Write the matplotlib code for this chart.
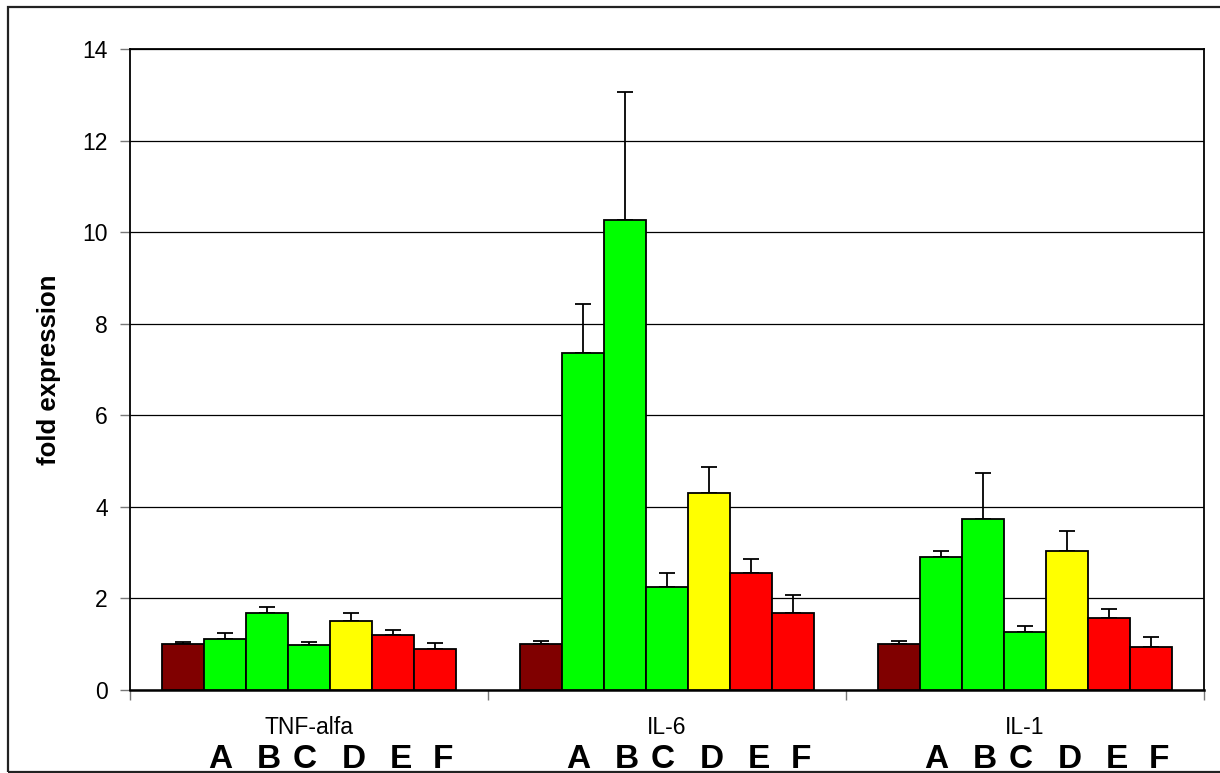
# fold expression of cytokines, bars with upper error bars

import matplotlib.pyplot as plt
import numpy as np
from matplotlib.patches import Rectangle
from matplotlib.transforms import blended_transform_factory, offset_copy

plt.rcParams['font.family'] = ['Liberation Sans', 'DejaVu Sans']

genes = ['TNF-alfa', 'IL-6', 'IL-1']
letters = ['A', 'B', 'C', 'D', 'E', 'F']
bar_colors = ['#800000', '#00FF00', '#00FF00', '#00FF00', '#FFFF00', '#FF0000', '#FF0000']

tnf = [1.0, 1.11, 1.68, 0.99, 1.51, 1.21, 0.90]
tnf_err = [0.05, 0.14, 0.14, 0.05, 0.17, 0.09, 0.13]
il6 = [1.0, 7.35, 10.27, 2.24, 4.30, 2.55, 1.69]
il6_err = [0.08, 1.09, 2.80, 0.31, 0.57, 0.31, 0.38]
il1 = [1.0, 2.90, 3.73, 1.26, 3.04, 1.57, 0.95]
il1_err = [0.08, 0.14, 1.02, 0.13, 0.43, 0.20, 0.21]

values = np.array([tnf, il6, il1])
errors = np.array([tnf_err, il6_err, il1_err])

# small horizontal nudges (pixels) for the letter row
letter_dx = [-5, 2, -4, 3, 8, 8]

W, H = 1220, 773
fig = plt.figure(figsize=(W / 100, H / 100), dpi=100)
ax = fig.add_axes([130 / W, (H - 690) / H, (1204 - 130) / W, (690 - 49) / H])

# outer frame around the whole chart
fig.patches.append(Rectangle((8 / W, 1 - 772 / H), 1.2, (772 - 7) / H,
                             transform=fig.transFigure, fill=False,
                             edgecolor='#222222', lw=1.6, clip_on=False))

nbars = values.shape[1]
w = 1 / 8.5
x = np.arange(len(genes))
tr = blended_transform_factory(ax.transData, ax.transAxes)
for i in range(nbars):
    pos = x + (i - (nbars - 1) / 2) * w
    ax.bar(pos, values[:, i], width=w, color=bar_colors[i],
           edgecolor='black', linewidth=1.3, zorder=3)
    ax.errorbar(pos, values[:, i], yerr=[np.zeros(len(genes)), errors[:, i]],
                fmt='none', ecolor='black', elinewidth=1.3, capsize=5.5,
                capthick=1.3, zorder=2)
    # letters under the six treated bars
    if i > 0:
        ltr = offset_copy(tr, fig=fig, x=letter_dx[i - 1], y=0, units='dots')
        for p in pos:
            ax.text(p, -0.1215, letters[i - 1], transform=ltr, ha='center',
                    va='baseline', fontsize=24, fontweight='bold')

ax.set_xlim(-0.5, 2.5)
ax.set_ylim(0, 14)
ax.set_yticks(np.arange(0, 15, 2))
ax.yaxis.grid(True, color='black', linewidth=0.9, zorder=0)
ax.set_axisbelow(True)

ax.set_xticks(x)
ax.set_xticklabels(genes, fontsize=16.5)
ax.set_xticks([-0.5, 0.5, 1.5, 2.5], minor=True)
ax.tick_params(axis='x', which='major', length=0, pad=19)
ax.tick_params(axis='x', which='minor', length=7, color='#777777', width=1)
ax.tick_params(axis='y', length=7, color='#777777', width=1, pad=9,
               labelsize=16.5)

for s in ['top', 'right', 'left']:
    ax.spines[s].set_linewidth(1.3)
ax.spines['bottom'].set_linewidth(1.8)

ax.set_ylabel('fold expression', fontsize=18.5, fontweight='bold', labelpad=15)

fig.savefig('out.png', dpi=100)
